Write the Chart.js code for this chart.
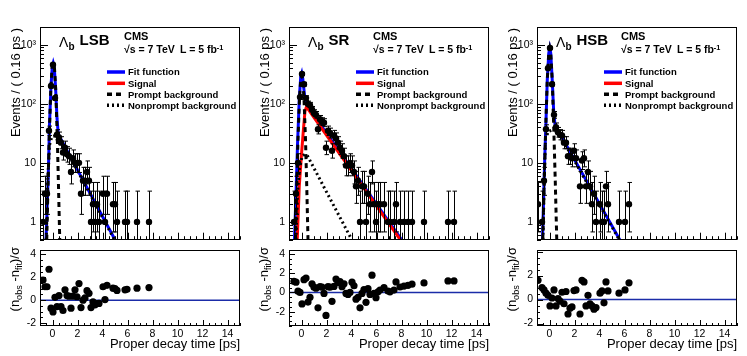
<!DOCTYPE html>
<html>
<head>
<meta charset="utf-8">
<script src="https://cdn.jsdelivr.net/npm/chart.js@4.4.0/dist/chart.umd.min.js"></script>
<style>
  body { margin: 0; background: #fff; width: 747px; height: 356px; position: relative; overflow: hidden;
         font-family: "Liberation Sans", Arial, sans-serif; }
  canvas { position: absolute; }
  .t { position: absolute; white-space: nowrap; color: #000; }
  .sup { position: relative; top: -0.45em; font-size: 70%; }
  .sub { position: relative; top: 0.3em; font-size: 70%; }
  svg { position: absolute; overflow: visible; }
</style>
</head>
<body>
<script>
// ---- data ----
const xMin = -1, xMax = 15;
const xLabels = [0, 2, 4, 6, 8, 10, 12, 14];
const logLabels = [1, 10, 100, 1000];
const logLabelText = ['1', '10', '10\u00b2', '10\u00b3'];

// LSB
const lsbTime = [-0.76,-0.60,-0.44,-0.28,-0.12,0.04,0.20,0.36,0.52,0.68,0.84,1.00,1.16,1.32,1.48,1.64,1.80,1.96,2.12,2.28,2.44,2.60,2.76,2.92,3.08,3.24,3.40,3.56,3.72,4.04,4.20,4.36,4.84,5.00,5.16,5.80,5.96,6.76,7.72];
const lsbCounts = [1,3,3,35,200,460,125,30,27,22,15,18,14,13,7,12,10,10,10,3,5,5,7,5,1,2,1,2,1,3,1,3,2,2,1,1,1,1,1];
const lsbPull = [1.75,1.17,1.17,2.7,-0.7,-1.03,0.25,-0.56,0.4,-0.56,-0.9,0.9,0.4,0.35,-0.7,0.35,0.9,0.3,1.45,-0.64,0.0,0.2,0.83,0.6,-0.64,-0.15,-0.4,-0.3,-0.28,1.17,0.05,1.3,1.05,1.0,0.85,0.9,0.95,1.05,1.1];
const lsbFitT = [-0.52,-0.42,-0.34,-0.24,-0.12,-0.02,0.06,0.14,0.24,0.36,0.46,0.60,5.00];
const lsbFitY = [0.5,2,6,45,200,420,490,420,200,57,31,27,0.5];
const lsbPromptT = [-0.46,-0.36,-0.26,-0.14,-0.04,0.06,0.16,0.26,0.38,0.48,0.58];
const lsbPromptY = [0.5,4,28,170,400,480,400,170,28,4,0.5];
const lsbNonpromptT = [-0.50,-0.38,-0.24,-0.05,0.30,0.60,5.00];
const lsbNonpromptY = [0.5,5,20,28,29,26.5,0.48];

// SR
const srTime = [-0.60,-0.44,-0.28,-0.12,0.04,0.20,0.36,0.52,0.68,0.84,1.00,1.16,1.32,1.48,1.64,1.80,1.96,2.12,2.28,2.44,2.60,2.76,2.92,3.08,3.24,3.40,3.56,3.72,3.88,4.04,4.20,4.36,4.52,4.68,4.84,5.00,5.16,5.32,5.48,5.64,5.80,5.96,6.12,6.28,6.60,6.92,7.08,7.40,7.56,7.88,8.20,8.52,8.84,9.80,11.72,12.20];
const srCounts = [1,3,10,130,320,215,125,100,95,80,70,65,37,55,50,48,18,35,32,16,29,26,22,18,16,13,9,9,10,9,7,4,5,1,4,4,1,3,2,7,2,1,2,2,2,1,1,1,2,1,1,1,1,1,1,1];
const srPull = [1.15,1.07,0.13,0.0,-1.2,1.33,1.5,-1.0,-0.5,0.9,0.55,0.45,-1.6,0.6,0.55,-0.1,-2.4,0.6,0.55,-0.93,0.63,1.4,1.05,1.13,0.6,0.9,-0.1,-0.2,0.0,1.07,0.7,-0.7,-0.5,-1.6,-0.1,0.3,-1.03,0.4,-0.2,1.8,-0.1,-0.55,0.07,0.25,0.5,0.15,0.07,0.25,1.1,0.57,0.67,0.75,0.87,1.0,1.2,1.2];
const srFitT = [-0.56,-0.44,-0.32,-0.18,-0.06,0.02,0.10,0.20,0.30,0.40,8.00];
const srFitY = [0.5,3,20,120,290,330,270,170,110,96,0.5];
const srSignalT = [-0.34,-0.18,0.00,0.16,0.28,0.40,7.90];
const srSignalY = [0.5,4,14,38,75,89,0.5];
const srPromptT = [-0.48,-0.38,-0.28,-0.16,-0.06,0.02,0.10,0.20,0.32,0.42,0.52];
const srPromptY = [0.5,4,25,120,260,300,260,120,25,4,0.5];
const srNonpromptT = [-0.44,-0.32,-0.16,0.05,0.30,0.45,4.02];
const srNonpromptY = [0.5,3,8,13,14,13.5,0.5];

// HSB
const hsbTime = [-0.92,-0.60,-0.44,-0.28,-0.12,0.04,0.20,0.36,0.52,0.68,0.84,1.00,1.16,1.32,1.48,1.64,1.80,1.96,2.12,2.44,2.60,2.76,2.92,3.08,3.24,3.40,3.56,3.72,4.04,4.20,4.36,4.52,4.68,5.56,6.04,6.36];
const hsbCounts = [2,1,5,37,400,880,215,65,40,33,30,29,22,22,13,13,12,16,12,4,11,12,4,7,4,2,3,1,2,1,1,4,2,1,1,2];
const hsbPull = [1.6,1.0,0.8,0.53,0.35,-0.53,0.13,0.8,-0.53,0.08,-0.13,0.61,-0.35,0.67,-1.2,-0.72,-0.61,0.75,0.8,-1.2,1.6,1.47,-0.53,0.35,-0.35,-0.53,-0.8,-0.67,0.53,0.72,-0.27,1.47,0.72,0.53,0.8,1.39];
const hsbFitT = [-0.56,-0.46,-0.38,-0.30,-0.18,-0.06,0.02,0.10,0.22,0.34,0.44,0.60,5.62];
const hsbFitY = [0.5,3,12,38,250,720,880,720,250,70,45,38,0.5];
const hsbPromptT = [-0.54,-0.42,-0.30,-0.18,-0.06,0.02,0.10,0.22,0.34,0.46,0.58];
const hsbPromptY = [0.5,5,40,250,720,870,720,250,40,5,0.5];
const hsbNonpromptT = [-0.52,-0.42,-0.32,-0.10,0.20,0.60,5.58];
const hsbNonpromptY = [0.5,6,26,34,36,36,0.5];

const legendItems = ['Fit function', 'Signal', 'Prompt background', 'Nonprompt background'];

const FONT = '"Liberation Sans", Arial, sans-serif';
Chart.defaults.font.family = FONT;
Chart.defaults.color = '#000';

const pts = (xs, ys) => xs.map((x, i) => ({ x, y: ys[i] }));

// Poisson (approx. Garwood) interval for a count
function poissonErr(n) {
  return [n - Math.sqrt(n - 0.25), n + 1 + Math.sqrt(n + 0.75)];
}

// error bars on the first dataset
const errorBars = {
  id: 'errorBars',
  afterDatasetsDraw(chart) {
    const ds = chart.data.datasets[0];
    if (!ds.errors) return;
    const { ctx, chartArea: a, scales: { x, y } } = chart;
    ctx.save();
    ctx.beginPath();
    ctx.rect(a.left, a.top, a.width, a.height);
    ctx.clip();
    ctx.strokeStyle = '#000';
    ctx.lineWidth = 1;
    ds.data.forEach((p, i) => {
      const [lo, hi] = ds.errors[i];
      const px = Math.round(x.getPixelForValue(p.x)) + 0.5;
      const yLo = lo > 0 ? y.getPixelForValue(lo) : a.bottom + 5;
      const yHi = y.getPixelForValue(hi);
      ctx.beginPath();
      ctx.moveTo(px, yLo); ctx.lineTo(px, yHi);
      ctx.moveTo(px - 2, yHi); ctx.lineTo(px + 2.5, yHi);
      ctx.moveTo(px - 2, yLo); ctx.lineTo(px + 2.5, yLo);
      ctx.stroke();
    });
    ctx.restore();
  }
};

// ROOT-like frame with inward ticks
const rootFrame = {
  id: 'rootFrame',
  afterDraw(chart, args, opts) {
    const { ctx, chartArea: a, scales: { x, y } } = chart;
    ctx.save();
    ctx.strokeStyle = '#000';
    ctx.lineWidth = 1;
    ctx.beginPath();
    for (let v = xMin; v <= xMax + 1e-9; v += 0.5) {
      const px = Math.round(x.getPixelForValue(v)) + 0.5;
      const len = Math.abs(v % 2) < 1e-9 ? opts.xMajor : opts.xMinor;
      ctx.moveTo(px, a.bottom); ctx.lineTo(px, a.bottom - len);
    }
    opts.yTicks.forEach(([v, len]) => {
      const py = Math.round(y.getPixelForValue(v)) + 0.5;
      ctx.moveTo(a.left, py); ctx.lineTo(a.left + len, py);
    });
    ctx.stroke();
    ctx.strokeRect(Math.round(a.left) + 0.5, Math.round(a.top) + 0.5, Math.round(a.width) - 1, Math.round(a.height) - 1);
    ctx.restore();
  }
};

function addText(html, x, base, size, bold) {
  const d = document.createElement('div');
  d.className = 't';
  d.innerHTML = html;
  d.style.left = x + 'px';
  d.style.top = (base - 0.8465 * size) + 'px';
  d.style.fontSize = size + 'px';
  d.style.lineHeight = size + 'px';
  if (bold) d.style.fontWeight = 'bold';
  document.body.appendChild(d);
  return d;
}

function addVText(html, xLeft, yEnd, size) {
  const d = document.createElement('div');
  d.className = 't';
  d.innerHTML = html;
  d.style.fontSize = size + 'px';
  d.style.lineHeight = size + 'px';
  d.style.width = '200px';
  d.style.textAlign = 'right';
  d.style.transformOrigin = '0 0';
  d.style.transform = 'rotate(-90deg)';
  d.style.left = xLeft + 'px';
  d.style.top = (yEnd + 200) + 'px';
  document.body.appendChild(d);
}

function addLegend(L) {
  const rows = [72, 83.3, 94.3, 105.3];
  const styles = [
    { color: '#0000ff', dash: '' },
    { color: '#ff0000', dash: '' },
    { color: '#000', dash: '5,4' },
    { color: '#000', dash: '2,3' }
  ];
  const ns = 'http://www.w3.org/2000/svg';
  const svg = document.createElementNS(ns, 'svg');
  svg.setAttribute('width', '747');
  svg.setAttribute('height', '356');
  svg.style.left = '0px';
  svg.style.top = '0px';
  rows.forEach((y, i) => {
    const ln = document.createElementNS(ns, 'line');
    ln.setAttribute('x1', L + 67); ln.setAttribute('x2', L + 85);
    ln.setAttribute('y1', y); ln.setAttribute('y2', y);
    ln.setAttribute('stroke', styles[i].color);
    ln.setAttribute('stroke-width', 3.5);
    if (styles[i].dash) ln.setAttribute('stroke-dasharray', styles[i].dash);
    svg.appendChild(ln);
    addText(legendItems[i], L + 88, y + 3.5, 9.5, true);
  });
  document.body.appendChild(svg);
}

function logTicks(min, max) {
  const out = [];
  [0.1, 1, 10, 100, 1000].forEach(d => {
    for (let m = 1; m <= 9; m++) {
      const v = m * d;
      if (v >= min && v <= max) out.push([v, m === 1 ? 8 : 4]);
    }
  });
  return out;
}

function linTicks(min, max) {
  const out = [];
  for (let v = -4; v <= 5; v += 0.5) {
    if (v >= min && v <= max) out.push([v, Math.abs(v % 2) < 1e-9 ? 6 : 3]);
  }
  return out;
}

function lineDs(label, xs, ys, color, dash) {
  return {
    label, data: pts(xs, ys), showLine: true, pointRadius: 0,
    borderColor: color, borderWidth: 3, borderDash: dash || [], tension: 0, fill: false
  };
}

function makePanel(p) {
  const L = p.left;
  const yMin = 0.5, yMax = 2000;

  // upper pad: events, log scale
  const c1 = document.createElement('canvas');
  c1.width = 245; c1.height = 250;
  c1.style.left = (L - 40) + 'px'; c1.style.top = '0px';
  document.body.appendChild(c1);

  const datasets = [{
    label: 'Data', data: pts(p.time, p.counts), errors: p.counts.map(poissonErr),
    showLine: false, pointRadius: 3.2, pointBackgroundColor: '#000', pointBorderWidth: 0
  }];
  datasets.push(lineDs('Nonprompt background', p.npT, p.npY, '#000', [2, 3]));
  datasets.push(lineDs('Prompt background', p.prT, p.prY, '#000', [5, 4]));
  if (p.sigT) datasets.push(lineDs('Signal', p.sigT, p.sigY, '#ff0000'));
  datasets.push(lineDs('Fit function', p.fitT, p.fitY, '#0000ff'));

  new Chart(c1, {
    type: 'scatter',
    data: { datasets },
    options: {
      responsive: false, animation: false,
      layout: { padding: { left: 0, right: 5, top: 27, bottom: 3 }, autoPadding: false },
      plugins: { legend: { display: false }, tooltip: { enabled: false },
                 rootFrame: { xMajor: 7, xMinor: 3.5, yTicks: logTicks(yMin, yMax) } },
      scales: {
        x: { type: 'linear', min: xMin, max: xMax, display: false },
        y: {
          type: 'logarithmic', min: yMin, max: yMax,
          grid: { display: false, drawTicks: false }, border: { display: false },
          afterFit: s => { s.width = 40; },
          afterBuildTicks: s => { s.ticks = logLabels.map(v => ({ value: v })); },
          ticks: { padding: 4, font: { size: 10.5 }, color: '#000',
                   callback: v => logLabelText[logLabels.indexOf(v)] }
        }
      }
    },
    plugins: [errorBars, rootFrame]
  });

  // lower pad: pulls
  const c2 = document.createElement('canvas');
  c2.width = 245; c2.height = 116;
  c2.style.left = (L - 40) + 'px'; c2.style.top = '240px';
  document.body.appendChild(c2);

  new Chart(c2, {
    type: 'scatter',
    data: {
      datasets: [
        { label: 'Pull', data: pts(p.time, p.pull), showLine: false, pointRadius: 3.6,
          pointBackgroundColor: '#000', pointBorderWidth: 0 },
        { label: 'Zero', data: [{ x: xMin, y: 0 }, { x: xMax, y: 0 }], showLine: true,
          pointRadius: 0, borderColor: '#1b2ca8', borderWidth: 1.5 }
      ]
    },
    options: {
      responsive: false, animation: false,
      layout: { padding: { left: 0, right: 5, top: 7, bottom: 0 }, autoPadding: false },
      plugins: { legend: { display: false }, tooltip: { enabled: false },
                 rootFrame: { xMajor: 6, xMinor: 3, yTicks: linTicks(p.pullRange[0], p.pullRange[1]) } },
      scales: {
        x: {
          type: 'linear', min: xMin, max: xMax,
          grid: { display: false, drawTicks: false }, border: { display: false },
          afterFit: s => { s.height = 30; },
          afterBuildTicks: s => { s.ticks = xLabels.map(v => ({ value: v })); },
          ticks: { padding: 2, font: { size: 10.5 }, color: '#000', maxRotation: 0, autoSkip: false }
        },
        y: {
          type: 'linear', min: p.pullRange[0], max: p.pullRange[1],
          grid: { display: false, drawTicks: false }, border: { display: false },
          afterFit: s => { s.width = 40; },
          afterBuildTicks: s => { s.ticks = p.pullLabels.map(v => ({ value: v })); },
          ticks: { padding: 4, font: { size: 10.5 }, color: '#000', callback: v => String(v) }
        }
      }
    },
    plugins: [rootFrame]
  });

  // texts
  addText('\u039b', L + 19, 46.5, 14, false);
  addText('b', L + 28.5, 50, 10, true);
  addText(p.name, L + 39.5, 45, 15, true);
  addText('CMS', L + 84, 40, 11, true);
  addText('\u221as = 7 TeV', L + 84, 53, 10.5, true);
  addText('L = 5 fb<span class="sup">-1</span>', L + 140, 53, 10.5, true);
  addLegend(L);
  addVText('Events / ( 0.16 ps )', L - 31.3, 28, 13);
  addVText('(n<span class="sub">obs</span> -n<span class="sub">fit</span>)/\u03c3', L - 32, 247, 13);
  const xt = addText('Proper decay time [ps]', 0, 348.5, 13, false);
  xt.style.left = '';
  xt.style.right = (747 - (L + 200)) + 'px';
}

[
  { name: 'LSB', left: 40, time: lsbTime, counts: lsbCounts, pull: lsbPull,
    fitT: lsbFitT, fitY: lsbFitY, prT: lsbPromptT, prY: lsbPromptY, npT: lsbNonpromptT, npY: lsbNonpromptY,
    pullRange: [-2.25, 4.35], pullLabels: [-2, 0, 2, 4] },
  { name: 'SR', left: 289, time: srTime, counts: srCounts, pull: srPull,
    fitT: srFitT, fitY: srFitY, prT: srPromptT, prY: srPromptY, npT: srNonpromptT, npY: srNonpromptY,
    sigT: srSignalT, sigY: srSignalY,
    pullRange: [-3.5, 4.4], pullLabels: [-2, 0, 2, 4] },
  { name: 'HSB', left: 537, time: hsbTime, counts: hsbCounts, pull: hsbPull,
    fitT: hsbFitT, fitY: hsbFitY, prT: hsbPromptT, prY: hsbPromptY, npT: hsbNonpromptT, npY: hsbNonpromptY,
    pullRange: [-2.2, 4.1], pullLabels: [-2, 0, 2] }
].forEach(makePanel);
</script>
</body>
</html>
